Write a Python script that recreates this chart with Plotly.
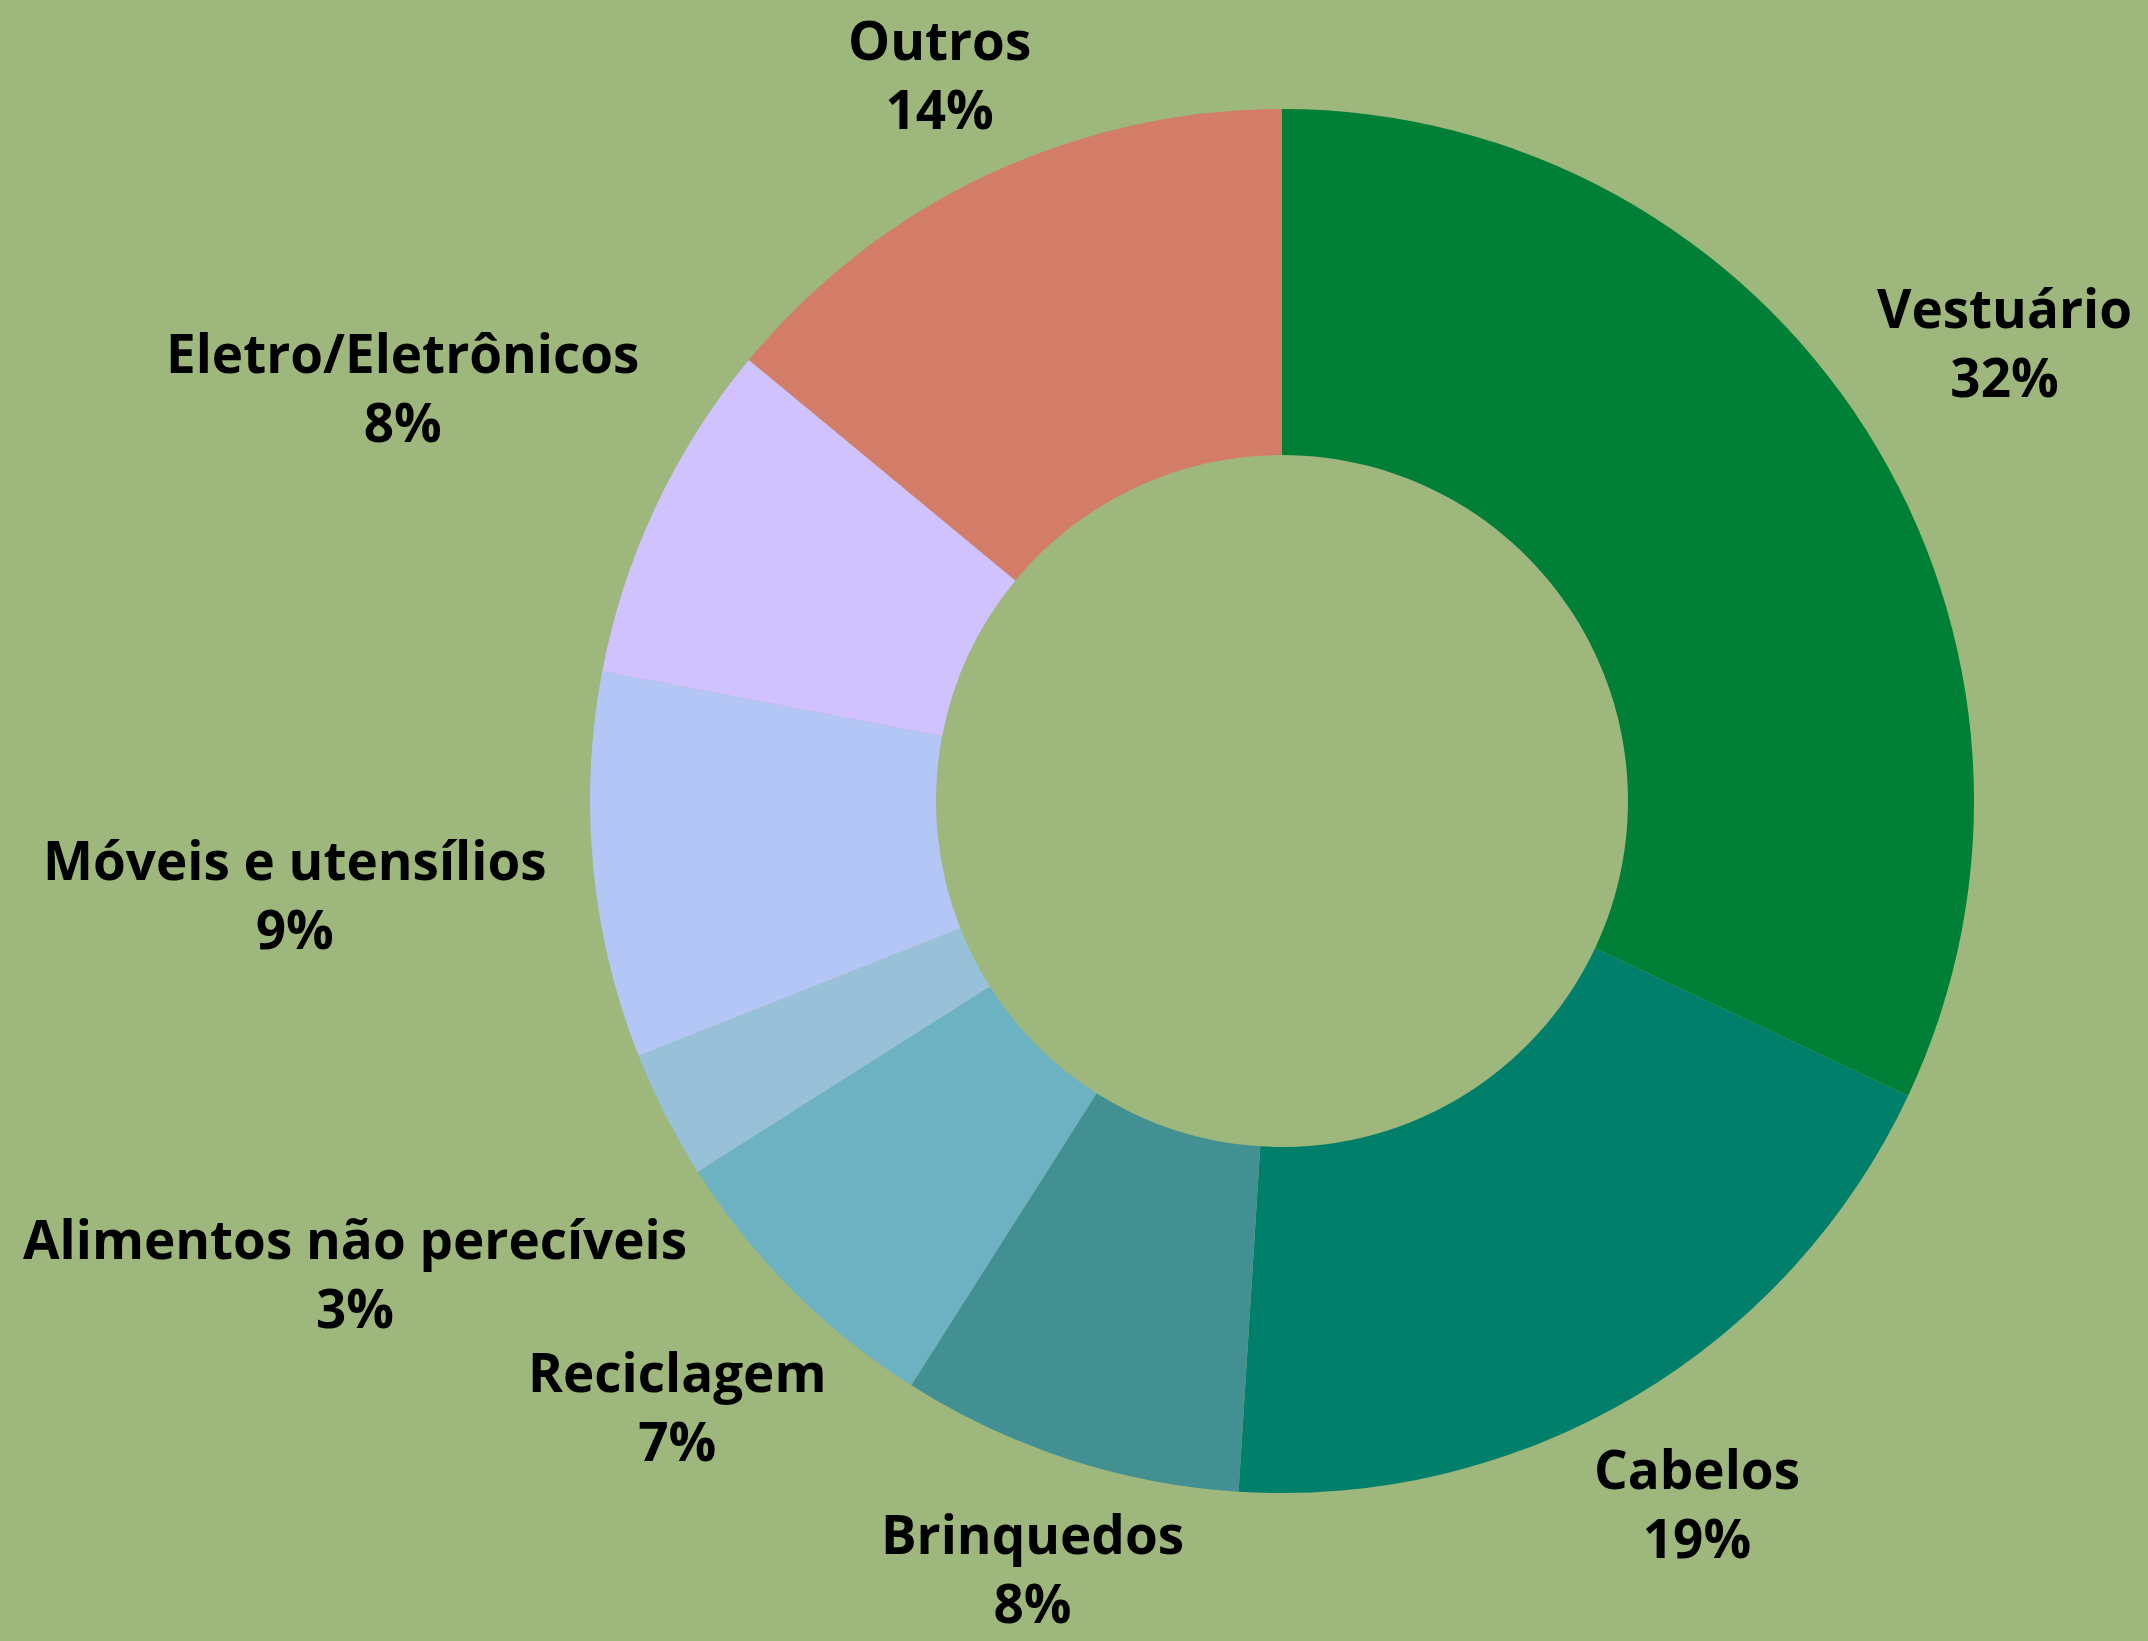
import math
import numpy as np
import plotly.graph_objects as go

categories = ["Vestuário", "Cabelos", "Brinquedos", "Reciclagem",
              "Alimentos não perecíveis", "Móveis e utensílios",
              "Eletro/Eletrônicos", "Outros"]
values = [32, 19, 8, 7, 3, 9, 8, 14]
colors = ["#008037", "#00806A", "#439093", "#6CB2C3",
          "#98C0D8", "#B3C6F5", "#D0C2FF", "#D37D68"]
bg = "#9DB77D"

W, H = 2148, 1641
CX, CY, R = 1282.0, 801.0, 692.0      # pie centre (px from top-left) and radius
FONT = 53
CHAR_W = 28.5                          # approx. advance per character (px)
INK_HALF_H = 57.0                      # half-height of a two-line label block
LABEL_GAP = 1.037                      # label boxes sit just outside the ring

fig = go.Figure(go.Pie(
    labels=categories,
    values=values,
    hole=0.5,
    sort=False,
    direction="clockwise",
    rotation=0,
    marker=dict(colors=colors, line=dict(width=0)),
    textinfo="none",
    hoverinfo="label+percent",
    showlegend=False,
    domain=dict(x=[(CX - R) / W, (CX + R) / W],
                y=[1 - (CY + R) / H, 1 - (CY - R) / H]),
))

# Labels placed radially at each slice's mid-angle, outside the ring
vals = np.array(values, dtype=float)
frac = vals / vals.sum()
mid = np.cumsum(frac) - frac / 2
r0 = R * LABEL_GAP


def box_dist(cx, cy, w, h):
    ex = max(abs(cx) - w, 0.0)
    ey = max(abs(cy) - h, 0.0)
    return math.hypot(ex, ey)


annotations = []
for name, f, m in zip(categories, frac, mid):
    th = 2 * math.pi * m
    dx, dy = math.sin(th), -math.cos(th)
    w = len(name) * CHAR_W / 2
    h = INK_HALF_H
    lo, hi = 0.0, 3 * R
    for _ in range(60):
        t = (lo + hi) / 2
        if box_dist(t * dx, t * dy, w, h) < r0:
            lo = t
        else:
            hi = t
    px, py = CX + t * dx, CY + t * dy
    annotations.append(dict(
        x=px / W, y=1 - py / H, xref="paper", yref="paper",
        text=f"<b>{name}</b><br><b>{round(f * 100)}%</b>",
        showarrow=False, xanchor="center", yanchor="middle",
        align="center",
        font=dict(family="Open Sans", size=FONT, color="#000000"),
    ))

fig.update_layout(
    width=W, height=H,
    margin=dict(l=0, r=0, t=0, b=0),
    paper_bgcolor=bg, plot_bgcolor=bg,
    annotations=annotations,
)

fig.write_html("out.html",
               config={"displayModeBar": False},
               post_script="document.body.style.margin='0';"
                           "document.body.style.overflow='hidden';")
